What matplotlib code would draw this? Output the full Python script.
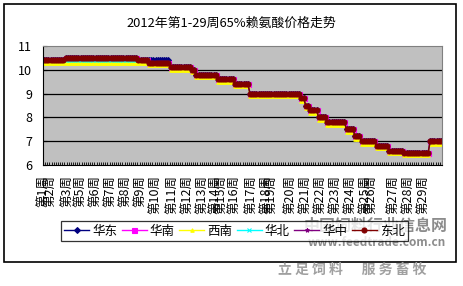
import numpy as np
import matplotlib.pyplot as plt
from matplotlib.patches import Rectangle

plt.rcParams['font.family'] = ['Noto Sans CJK SC', 'DejaVu Sans']

# 每日数据，按价格台阶记录（起始日序号, 价格）
n_days = 186
seg_start = [0, 10, 44, 49, 59, 69, 71, 81, 89, 96, 120, 122, 124, 128, 132, 141, 145, 148, 155, 161, 168, 180]

huadong  = [10.4, 10.5, 10.4, 10.4, 10.1, 10.0, 9.8, 9.6, 9.4, 9.0, 8.8, 8.5, 8.3, 8.0, 7.8, 7.5, 7.2, 7.0, 6.8, 6.6, 6.5, 7.0]
huanan   = [10.4, 10.5, 10.4, 10.3, 10.1, 10.0, 9.8, 9.6, 9.4, 9.0, 8.8, 8.5, 8.3, 8.0, 7.8, 7.5, 7.2, 7.0, 6.8, 6.6, 6.5, 7.0]
xinan    = [10.3, 10.3, 10.3, 10.2, 10.0, 9.9, 9.7, 9.5, 9.3, 8.9, 8.7, 8.4, 8.2, 7.9, 7.7, 7.4, 7.1, 6.9, 6.7, 6.5, 6.4, 6.9]
huabei   = [10.4, 10.4, 10.4, 10.3, 10.1, 10.0, 9.8, 9.6, 9.4, 9.0, 8.8, 8.5, 8.3, 8.0, 7.8, 7.5, 7.2, 7.0, 6.8, 6.6, 6.5, 7.0]
huazhong = [10.4, 10.5, 10.4, 10.3, 10.1, 10.0, 9.8, 9.6, 9.4, 9.0, 8.8, 8.5, 8.3, 8.0, 7.8, 7.5, 7.2, 7.0, 6.8, 6.6, 6.5, 7.0]
dongbei  = [10.4, 10.5, 10.4, 10.3, 10.1, 10.0, 9.8, 9.6, 9.4, 9.0, 8.8, 8.5, 8.3, 8.0, 7.8, 7.5, 7.2, 7.0, 6.8, 6.6, 6.5, 7.0]

week_nums = [1, 2, 3, 5, 6, 7, 8, 9, 10, 11, 12, 13, 14, 15, 16, 17, 18, 19, 20, 21, 22, 23, 24, 25, 26, 27, 28, 29]
week_idx  = [0, 3, 11, 17, 24, 31, 38, 45, 52, 60, 67, 74, 80, 83, 89, 97, 104, 106, 115, 122, 129, 136, 143, 150, 153, 163, 170, 177]
week_labels = ['第%d周' % w for w in week_nums]

lengths = np.diff(seg_start + [n_days])
days = np.arange(n_days)

series = [
    ('华东', huadong, '#000080', 'D', 3.0),
    ('华南', huanan, '#FF00FF', 's', 3.6),
    ('西南', xinan, '#FFFF00', '^', 2.5),
    ('华北', huabei, '#00FFFF', 'x', 2.5),
    ('华中', huazhong, '#800080', '*', 3.0),
    ('东北', dongbei, '#800000', 'o', 3.6),
]

fig = plt.figure(figsize=(4.63, 2.86), dpi=100)
fig.patches.append(Rectangle((4/463, 1-262/286), 452/463, 258/286, transform=fig.transFigure,
                             fill=False, edgecolor='black', linewidth=1.2))

ax = fig.add_axes([43/463, 1-165/286, 399/463, 119/286])
ax.set_facecolor('#C0C0C0')

for name, vals, col, mk, ms in series:
    y = np.repeat(vals, lengths)
    ax.plot(days, y, color=col, marker=mk, markersize=ms, markeredgewidth=0.8,
            markeredgecolor=col, linewidth=1, label=name)

ax.set_xlim(-0.5, n_days - 0.5)
ax.set_ylim(6, 11)
ax.set_yticks([6, 7, 8, 9, 10, 11])
for yv in [7, 8, 9, 10]:
    ax.axhline(yv, color='black', linewidth=0.9, zorder=0.5)

ax.set_xticks(week_idx)
ax.set_xticklabels(week_labels, rotation=90, fontsize=9)
ax.set_xticks(np.arange(-0.5, n_days, 1), minor=True)
ax.tick_params(axis='x', which='major', length=0, pad=7)
ax.tick_params(axis='x', which='minor', direction='in', length=2.5, width=0.6, color='black')
ax.tick_params(axis='y', direction='in', length=3, labelsize=9, pad=8)
for lab in ax.get_xticklabels():
    lab.set_verticalalignment('top')

ax.spines['left'].set_color('black')
ax.spines['bottom'].set_color('black')
ax.spines['top'].set_color('#808080')
ax.spines['right'].set_color('#808080')

fig.text(231/463, 1-23/286, '2012年第1-29周65%赖氨酸价格走势', ha='center', va='center', fontsize=9.3)

leg = fig.legend(loc='center left', bbox_to_anchor=(61/463, 1-231/286), ncol=6, fontsize=9,
                 frameon=True, fancybox=False, edgecolor='black', handlelength=2.0,
                 columnspacing=0.35, handletextpad=0.25, borderpad=0.25, borderaxespad=0)
leg.get_frame().set_linewidth(0.9)

# 水印
fig.text(376/463, 1-226/286, '中国饲料行业信息网', ha='center', va='center', fontsize=11.5,
         color='#707070', alpha=0.8, fontweight='bold')
fig.text(377/463, 1-243/286, 'www.feedtrade.com.cn', ha='center', va='center', fontsize=8.5,
         color='#707070', alpha=0.8, fontweight='bold')
fig.text(352/463, 1-270/286, '立 足 饲 料      服 务 畜 牧', ha='center', va='center', fontsize=10,
         color='#A0A0A0', style='italic', fontweight='bold')

fig.savefig('out.png', dpi=100)
